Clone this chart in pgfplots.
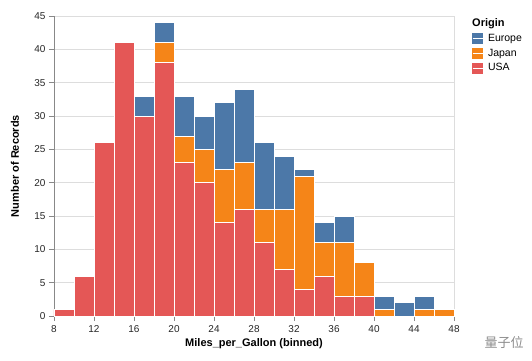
\documentclass[border=0pt]{standalone}
\usepackage{pgfplots}
\pgfplotsset{compat=1.18}
\usepackage{fontspec}
\setmainfont{Liberation Sans}
\newfontfamily\cjk{Noto Sans CJK SC}
\definecolor{europe}{HTML}{4C78A8}
\definecolor{japan}{HTML}{F58518}
\definecolor{usa}{HTML}{E45756}
\definecolor{gridgray}{HTML}{DDDDDD}
\definecolor{axisgray}{HTML}{888888}
\begin{document}
\begin{tikzpicture}
\begin{axis}[
  at={(0pt,0pt)}, anchor=south west,
  scale only axis, width=400pt, height=300pt,
  xmin=8, xmax=48, ymin=0, ymax=45,
  ybar stacked, bar width=2, bar shift=0pt,
  axis lines*=left,
  axis line style={axisgray, line width=0.8pt},
  xtick={8,12,...,48}, ytick={0,5,...,45},
  tick style={axisgray, line width=0.8pt},
  tick align=outside, major tick length=5pt,
  ymajorgrids, grid style={gridgray, line width=0.7pt},
  tick label style={font=\fontsize{10}{12}\selectfont, text=black!85},
  /pgf/number format/assume math mode=true,
  xticklabel style={yshift=-1pt},
  xlabel={\bfseries Miles\_per\_Gallon (binned)},
  ylabel={\bfseries Number of Records},
  label style={font=\fontsize{11}{13}\selectfont},
  xlabel style={at={(rel axis cs:0.5,0)}, anchor=center, yshift=-28pt},
  ylabel style={at={(rel axis cs:0,0.5)}, anchor=center, yshift=39pt},
  legend style={at={(rel axis cs:1,1)}, anchor=north west, xshift=15pt, yshift=-14pt,
    draw=none, fill=none, font=\fontsize{10.5}{12}\selectfont, row sep=2pt,
    cells={anchor=west}},
  reverse legend,
  clip=false,
]
\addplot[fill=usa, draw=white, line width=0.8pt,
  legend image code/.code={\fill[usa] (0pt,-5pt) rectangle (10pt,5pt); \path (0pt,0pt) -- (13pt,0pt);}]
  coordinates {(9,1) (11,6) (13,26) (15,41) (17,30) (19,38) (21,23) (23,20) (25,14) (27,16) (29,11) (31,7) (33,4) (35,6) (37,3) (39,3) (41,0) (43,0) (45,0) (47,0)};
\addlegendentry{USA}
\addplot[fill=japan, draw=white, line width=0.8pt,
  legend image code/.code={\fill[japan] (0pt,-5pt) rectangle (10pt,5pt); \path (0pt,0pt) -- (13pt,0pt);}]
  coordinates {(9,0) (11,0) (13,0) (15,0) (17,0) (19,3) (21,4) (23,5) (25,8) (27,7) (29,5) (31,9) (33,17) (35,5) (37,8) (39,5) (41,1) (43,0) (45,1) (47,1)};
\addlegendentry{Japan}
\addplot[fill=europe, draw=white, line width=0.8pt,
  legend image code/.code={\fill[europe] (0pt,-5pt) rectangle (10pt,5pt); \path (0pt,0pt) -- (13pt,0pt);}]
  coordinates {(9,0) (11,0) (13,0) (15,0) (17,3) (19,3) (21,6) (23,5) (25,10) (27,11) (29,10) (31,8) (33,1) (35,3) (37,4) (39,0) (41,2) (43,2) (45,2) (47,0)};
\addlegendentry{Europe}
\draw[gridgray, line width=0.7pt] (rel axis cs:1,0) -- (rel axis cs:1,1);
\node[anchor=north west, font=\bfseries\fontsize{11}{13}\selectfont, inner sep=0pt] at ([xshift=18pt,yshift=-2pt]rel axis cs:1,1) {Origin};
\node[anchor=center, text=black!45, font=\cjk\fontsize{13}{15}\selectfont] at ([xshift=50pt,yshift=-27pt]rel axis cs:1,0) {量子位};
\end{axis}
\pgfresetboundingbox
\path (-54pt,-44pt) rectangle (478pt,316pt);
\end{tikzpicture}
\end{document}
